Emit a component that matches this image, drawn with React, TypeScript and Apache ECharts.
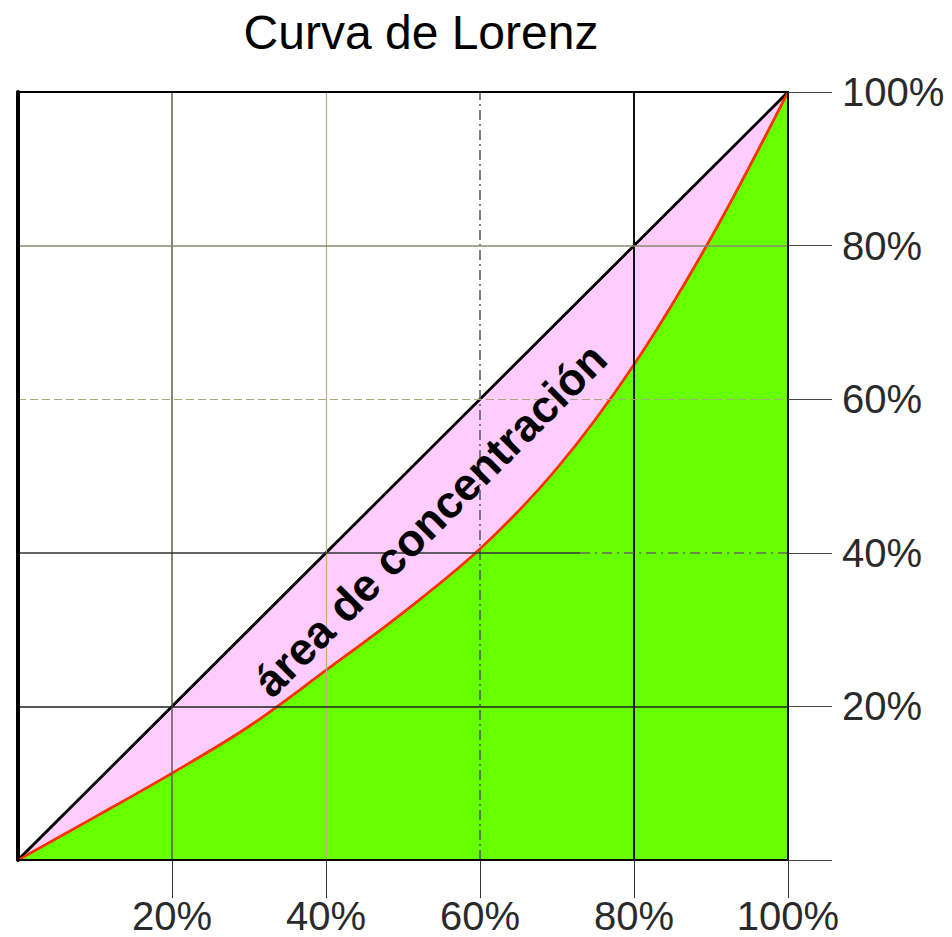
import React, { useEffect, useRef } from "react";
import * as echarts from "echarts";

// Cumulative population share (%) and cumulative income share (%)
const populationShare = [0, 10, 20, 30, 40, 50, 60, 70, 80, 90, 100];
const incomeShare = [0, 5.6, 11.3, 17.4, 24.7, 32.2, 40.5, 51, 64.5, 81, 100];
const equalityX = [0, 100];
const equalityY = [0, 100];
const tickValues = [20, 40, 60, 80, 100];
const titleText = "Curva de Lorenz";
const annotationText = "área de concentración";

const FONT = "Liberation Sans, Arial, sans-serif";

export default function App() {
  const ref = useRef<HTMLDivElement>(null);

  useEffect(() => {
    if (!ref.current) return;
    const chart = echarts.init(ref.current, undefined, { renderer: "svg" });

    const lorenz = populationShare.map((x, i) => [x, incomeShare[i]]);
    const equality = equalityX.map((x, i) => [x, equalityY[i]]);

    const gridLines: any[] = [
      { xAxis: tickValues[0], lineStyle: { color: "#5c5c4c", width: 1.5, type: "solid" } },
      { xAxis: tickValues[1], lineStyle: { color: "#b4b478", width: 1.2, type: "solid" } },
      { xAxis: tickValues[2], lineStyle: { color: "#555555", width: 1.5, type: [10, 4, 2, 4] } },
      { xAxis: tickValues[3], lineStyle: { color: "#111111", width: 2, type: "solid" } },
      { yAxis: tickValues[0], lineStyle: { color: "#222222", width: 1.5, type: "solid" } },
      [
        { coord: [0, tickValues[1]], lineStyle: { color: "#333333", width: 1.5, type: "solid" } },
        { coord: [73, tickValues[1]] },
      ],
      [
        { coord: [73, tickValues[1]], lineStyle: { color: "#666666", width: 1.5, type: [10, 5, 2, 5] } },
        { coord: [100, tickValues[1]] },
      ],
      { yAxis: tickValues[2], lineStyle: { color: "#a8a878", width: 1.2, type: [8, 4] } },
      { yAxis: tickValues[3], lineStyle: { color: "#8a8a70", width: 1.5, type: "solid" } },
    ];

    chart.setOption({
      animation: false,
      backgroundColor: "#ffffff",
      grid: { left: 18, top: 92, width: 770, height: 768, containLabel: false },
      graphic: [
        {
          type: "text",
          x: 421,
          y: 32,
          style: {
            text: titleText,
            font: `normal 48px ${FONT}`,
            fill: "#000",
            textAlign: "center",
            textVerticalAlign: "middle",
          },
          z: 10,
        },
        {
          type: "text",
          x: 430,
          y: 520,
          rotation: Math.PI / 4,
          style: {
            text: annotationText,
            font: `bold 45px ${FONT}`,
            fill: "#000",
            textAlign: "center",
            textVerticalAlign: "middle",
          },
          z: 10,
        },
      ],
      xAxis: [
        {
          type: "value",
          min: 0,
          max: 100,
          interval: 20,
          position: "bottom",
          z: 5,
          axisLine: { show: true, onZero: false, lineStyle: { color: "#000", width: 2 } },
          axisTick: {
            show: true,
            length: 38,
            customValues: tickValues,
            lineStyle: { color: "#333", width: 1 },
          },
          axisLabel: {
            show: true,
            customValues: tickValues,
            margin: 36,
            formatter: (v: number) => `${v}%`,
            color: "#2a2a2a",
            fontSize: 40,
            fontFamily: FONT,
          },
          splitLine: { show: false },
        },
        {
          type: "value",
          min: 0,
          max: 100,
          position: "top",
          z: 5,
          axisLine: { show: true, onZero: false, lineStyle: { color: "#000", width: 2 } },
          axisTick: { show: false },
          axisLabel: { show: false },
          splitLine: { show: false },
        },
      ],
      yAxis: [
        {
          type: "value",
          min: 0,
          max: 100,
          interval: 20,
          position: "right",
          z: 5,
          axisLine: { show: true, onZero: false, lineStyle: { color: "#000", width: 2 } },
          axisTick: {
            show: true,
            inside: false,
            length: 44,
            lineStyle: { color: "#444", width: 1 },
          },
          axisLabel: {
            show: true,
            margin: 54,
            formatter: (v: number) => (v === 0 ? "" : `${v}%`),
            color: "#2a2a2a",
            fontSize: 40,
            fontFamily: FONT,
          },
          splitLine: { show: false },
        },
        {
          type: "value",
          min: 0,
          max: 100,
          position: "left",
          z: 5,
          axisLine: { show: true, onZero: false, lineStyle: { color: "#000", width: 4 } },
          axisTick: { show: false },
          axisLabel: { show: false },
          splitLine: { show: false },
        },
      ],
      series: [
        {
          name: "Igualdad",
          type: "line",
          data: equality,
          symbol: "none",
          z: 2,
          lineStyle: { color: "#000", width: 2.5 },
          areaStyle: { color: "#ffccff", opacity: 1 },
        },
        {
          name: "Lorenz",
          type: "line",
          data: lorenz,
          smooth: 0.35,
          symbol: "none",
          z: 3,
          lineStyle: { color: "#ff3300", width: 2.5 },
          areaStyle: { color: "#66ff00", opacity: 1 },
        },
        {
          name: "grid",
          type: "line",
          data: [[0, 0]],
          symbol: "none",
          z: 4,
          lineStyle: { opacity: 0 },
          markLine: {
            silent: true,
            symbol: ["none", "none"],
            label: { show: false },
            data: gridLines,
          },
        },
        {
          name: "Igualdad-top",
          type: "line",
          data: equality,
          symbol: "none",
          z: 4,
          lineStyle: { color: "#000", width: 2.5 },
        },
        {
          name: "Lorenz-top",
          type: "line",
          data: lorenz,
          smooth: 0.35,
          symbol: "none",
          z: 4,
          lineStyle: { color: "#ff3300", width: 2.5 },
        },
      ],
    });

    return () => chart.dispose();
  }, []);

  return (
    <div
      ref={ref}
      style={{ position: "fixed", left: 0, top: 0, width: 952, height: 937, background: "#fff" }}
    />
  );
}
